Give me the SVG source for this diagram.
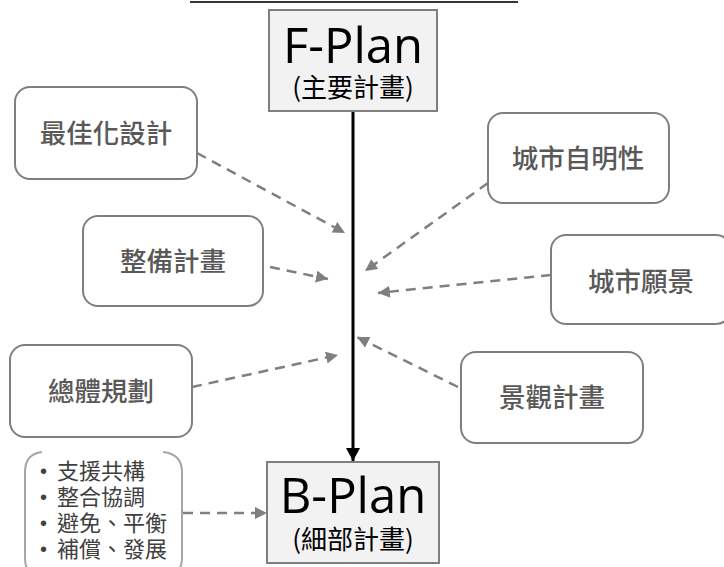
<svg xmlns="http://www.w3.org/2000/svg" width="724" height="567" viewBox="0 0 724 567">
  <style>
    .plan { fill: #f2f2f2; stroke: #7f7f7f; stroke-width: 2; }
    .title { font-family: "Open Sans", "Noto Sans", "Noto Sans CJK TC", sans-serif; fill: #000; text-anchor: middle; }
    .sub { font-family: "Noto Sans CJK TC", "Noto Sans", sans-serif; fill: #000; text-anchor: middle; font-size: 26px; }
    .box { fill: #fff; stroke: #7f7f7f; stroke-width: 2; }
    .lbl { font-family: "Noto Sans CJK TC", "Noto Sans", sans-serif; fill: #595959; text-anchor: middle; font-size: 26.5px; font-weight: 500; }
    .bul { font-family: "Noto Sans CJK TC", "Noto Sans", sans-serif; fill: #404040; font-size: 22px; }
    .dot { font-family: "Liberation Sans", sans-serif; fill: #404040; font-size: 20px; }
    .dash { fill: none; stroke: #7f7f7f; stroke-width: 2.5; stroke-dasharray: 10 7; marker-end: url(#grayHead); }
    .main { fill: none; stroke: #000; stroke-width: 3; marker-end: url(#blackHead); }
  </style>
  <defs>
    <marker id="grayHead" markerUnits="userSpaceOnUse" markerWidth="14" markerHeight="14" refX="12" refY="6" orient="auto">
      <path d="M0,0 L12,6 L0,12 Z" fill="#7f7f7f"/>
    </marker>
    <marker id="blackHead" markerUnits="userSpaceOnUse" markerWidth="16" markerHeight="16" refX="13" refY="7" orient="auto">
      <path d="M0,0 L13,7 L0,14 Z" fill="#000"/>
    </marker>
  </defs>

  <!-- top rule -->
  <line x1="190" y1="2" x2="518" y2="2" stroke="#333" stroke-width="2"/>

  <!-- connectors -->
  <g id="connectors">
    <line class="main" x1="353" y1="111" x2="353" y2="461"/>
    <line class="dash" x1="197" y1="153" x2="345" y2="233"/>
    <line class="dash" x1="270" y1="267" x2="328" y2="279"/>
    <line class="dash" x1="192" y1="387" x2="338" y2="355"/>
    <line class="dash" x1="488" y1="183" x2="365" y2="271"/>
    <line class="dash" x1="551" y1="275" x2="378" y2="293"/>
    <line class="dash" x1="458" y1="387" x2="357" y2="337"/>
    <line class="dash" x1="183" y1="513" x2="267" y2="513"/>
  </g>

  <g id="f-plan">
    <rect class="plan" x="269" y="10" width="168" height="101"/>
    <text class="title" x="353" y="63" font-size="49">F-Plan</text>
    <text class="sub" x="353" y="97">(主要計畫)</text>
  </g>

  <g id="b-plan">
    <rect class="plan" x="267" y="462" width="172" height="101"/>
    <text class="title" x="353" y="513" font-size="49">B-Plan</text>
    <text class="sub" x="353" y="549">(細部計畫)</text>
  </g>

  <g id="optimal-design">
    <rect class="box" x="15" y="87" width="182" height="92" rx="15"/>
    <text class="lbl" x="106" y="143">最佳化設計</text>
  </g>

  <g id="improvement-plan">
    <rect class="box" x="83" y="216" width="180" height="90" rx="15"/>
    <text class="lbl" x="173" y="271">整備計畫</text>
  </g>

  <g id="master-plan">
    <rect class="box" x="10" y="345" width="182" height="92" rx="15"/>
    <text class="lbl" x="101" y="401">總體規劃</text>
  </g>

  <g id="city-identity">
    <rect class="box" x="488" y="113" width="181" height="90" rx="15"/>
    <text class="lbl" x="578" y="168">城市自明性</text>
  </g>

  <g id="city-vision">
    <rect class="box" x="551" y="235" width="180" height="89" rx="15"/>
    <text class="lbl" x="641" y="291">城市願景</text>
  </g>

  <g id="landscape-plan">
    <rect class="box" x="461" y="352" width="182" height="91" rx="15"/>
    <text class="lbl" x="552" y="407">景觀計畫</text>
  </g>

  <g id="bullets">
    <path d="M42,452 Q25,454 25,472 L25,558 Q25,576 42,578" fill="none" stroke="#a6a6a6" stroke-width="2"/>
    <path d="M163,452 Q182,454 182,472 L182,558 Q182,576 163,578" fill="none" stroke="#a6a6a6" stroke-width="2"/>
    <text class="dot" x="40" y="478">•</text>
    <text class="dot" x="40" y="504">•</text>
    <text class="dot" x="40" y="530">•</text>
    <text class="dot" x="40" y="556">•</text>
    <text class="bul" x="57" y="479">支援共構</text>
    <text class="bul" x="57" y="505">整合協調</text>
    <text class="bul" x="57" y="531">避免、平衡</text>
    <text class="bul" x="57" y="557">補償、發展</text>
  </g>
</svg>
